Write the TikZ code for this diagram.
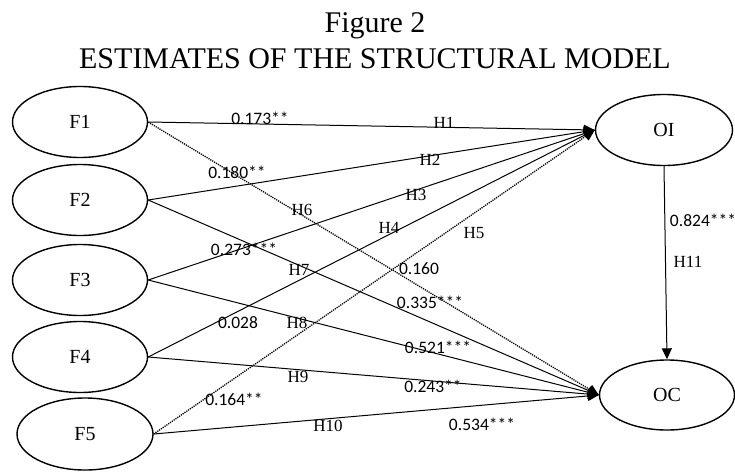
\documentclass[tikz,border=0pt]{standalone}
\usepackage{fontspec}
\setmainfont{Liberation Serif}
\newfontfamily\numfont{Carlito}
\usetikzlibrary{shapes.geometric,arrows.meta}
\begin{document}
\begin{tikzpicture}[x=1pt,y=-1pt,
  latent/.style={draw,ellipse,line width=1.4pt,inner sep=0pt,minimum width=135pt,minimum height=71pt,font=\fontsize{20}{24}\selectfont},
  pathline/.style={line width=1pt,-{Triangle[length=11pt,width=10pt]}},
  dotpath/.style={pathline,dash pattern=on 1.2pt off 1pt,line width=1.3pt},
  hyp/.style={inner sep=0pt,font=\fontsize{17}{20}\selectfont},
  est/.style={inner sep=0pt,font=\numfont\fontsize{17.5}{20}\selectfont},
  ttl/.style={inner sep=0pt,anchor=base,font=\fontsize{30}{36}\selectfont}]
\useasboundingbox (0,0) rectangle (735,471);
% title
\node[ttl] (t1) at (375,32) {Figure 2};
\node[ttl] (t2) at (375,68) {ESTIMATES OF THE STRUCTURAL MODEL};
% latent nodes
\node[latent] (F1) at (80,122) {F1};
\node[latent] (F2) at (80,200) {F2};
\node[latent] (F3) at (80,280) {F3};
\node[latent] (F4) at (80,357) {F4};
\node[latent,minimum width=136pt,minimum height=72pt] (F5) at (85,434) {F5};
\node[latent,minimum width=137pt] (OI) at (664,130) {OI};
\node[latent,minimum height=70pt] (OC) at (667,395) {OC};
% paths to OI
\draw[pathline] (F1.east) -- (OI.west);
\draw[pathline] (F2.east) -- (OI.west);
\draw[pathline] (F3.east) -- (OI.west);
\draw[pathline] (F4.east) -- (OI.west);
\draw[dotpath] (F5.east) -- (OI.west);
% paths to OC
\draw[dotpath] (F1.east) -- (OC.west);
\draw[pathline] (F2.east) -- (OC.west);
\draw[pathline] (F3.east) -- (OC.west);
\draw[pathline] (F4.east) -- (OC.west);
\draw[pathline] (F5.east) -- (OC.west);
\draw[pathline] (OI.south) -- (OC.north);
% hypothesis labels
\node[hyp] (h1) at (444,123) {H1};
\node[hyp] (h2) at (430,160) {H2};
\node[hyp] (h3) at (416,195) {H3};
\node[hyp] (h4) at (389,228) {H4};
\node[hyp] (h5) at (474,233) {H5};
\node[hyp] (h6) at (302,210) {H6};
\node[hyp] (h7) at (299,270) {H7};
\node[hyp] (h8) at (297,323) {H8};
\node[hyp] (h9) at (298,377) {H9};
\node[hyp] (h10) at (328,426) {H10};
\node[hyp] (h11) at (688,262) {H11};
% estimates
\node[est] (e1) at (260,118) {0.173**};
\node[est] (e2) at (237,172) {0.180**};
\node[est] (e3) at (244,249) {0.273***};
\node[est] (e4) at (238,323) {0.028};
\node[est] (e5) at (234,399) {0.164**};
\node[est] (e6) at (419,269) {0.160};
\node[est] (e7) at (430,302) {0.335***};
\node[est] (e8) at (438,347) {0.521***};
\node[est] (e9) at (433,386) {0.243**};
\node[est] (e10) at (482,424) {0.534***};
\node[est] (e11) at (703,220) {0.824***};
\end{tikzpicture}
\end{document}
